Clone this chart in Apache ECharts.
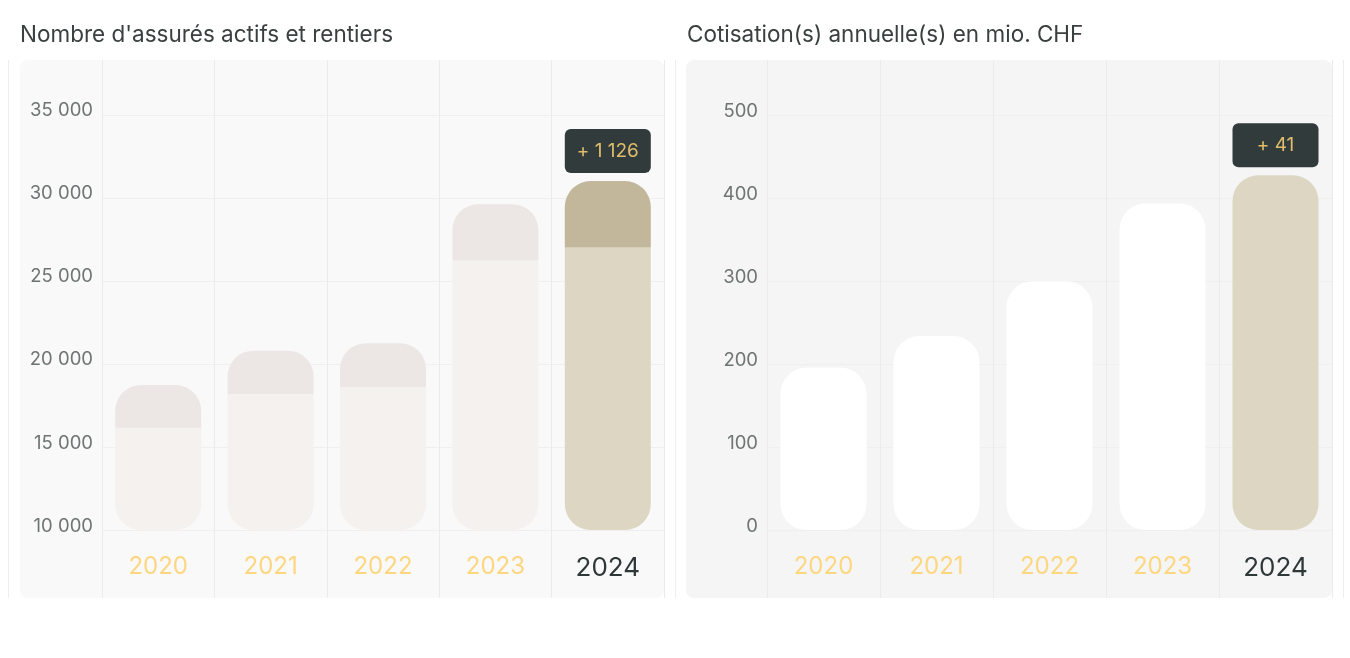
<!DOCTYPE html>
<html>
<head>
<meta charset="utf-8">
<script src="https://cdn.jsdelivr.net/npm/echarts@6/dist/echarts.min.js"></script>
<style>
  html, body { margin: 0; padding: 0; background: #ffffff; }
  #chart { width: 1350px; height: 658px; }
</style>
</head>
<body>
<div id="chart"></div>
<script>
var years = ['2020', '2021', '2022', '2023', '2024'];
// assurés actifs (partie basse) et rentiers (partie haute)
var actifs = [16160, 18190, 18610, 26220, 27010];
var rentiers = [2575, 2610, 2640, 3400, 4010];
// cotisations annuelles en mio. CHF
var cotisations = [196, 234, 300, 394, 428];
var assuresDelta = ['', '', '', '', '+ 1 126'];
var cotisationsDelta = ['', '', '', '', '+ 41'];

var assuresAxis = [10000, 38300, 5000];
var cotisationsAxis = [0, 567, 100];

var chart = echarts.init(document.getElementById('chart'));
var FONT = 'Inter, "Noto Sans", sans-serif';
var lastIdx = years.length - 1;
var R = 26;

function fmt(v) {
    return '{t|' + String(v).replace(/\B(?=(\d{3})+(?!\d))/g, ' ') + '}';
}

function yearData() {
    return years.map(function (y, i) {
        if (i === lastIdx) {
            return { value: y, textStyle: { color: '#2f3838', fontSize: 26 } };
        }
        return y;
    });
}

function deltaLabel(list) {
    return {
        show: true,
        position: 'top',
        distance: 8,
        formatter: function (p) { return list[p.dataIndex]; },
        color: '#e0bd6c',
        fontFamily: FONT,
        fontSize: 19,
        width: 86,
        align: 'center',
        lineHeight: 20,
        padding: [12, 0],
        backgroundColor: '#323b3c',
        borderRadius: 6
    };
}

function xAxisFor(gi) {
    return {
        type: 'category',
        gridIndex: gi,
        data: yearData(),
        axisLine: { show: false },
        axisTick: { show: true, length: 68, lineStyle: { color: '#eeeaea' } },
        splitLine: { show: true, lineStyle: { color: '#eeeaea' } },
        axisLabel: { color: '#fdd680', fontSize: 24, fontFamily: FONT, margin: 25 }
    };
}

function yAxisFor(gi, ax) {
    return {
        type: 'value',
        gridIndex: gi,
        min: ax[0],
        max: ax[1],
        interval: ax[2],
        axisLine: { show: false },
        axisTick: { show: false },
        splitLine: { show: true, showMaxLine: false, lineStyle: { color: '#f0eeee' } },
        axisLabel: {
            showMaxLabel: false,
            margin: 9,
            verticalAlign: 'middle',
            formatter: fmt,
            rich: {
                t: { color: '#6f7474', fontSize: 18.5, fontFamily: FONT, padding: [0, 0, 8, 0] }
            }
        }
    };
}

var titleStyle = { color: '#3a4040', fontSize: 22.5, fontWeight: 'normal', fontFamily: FONT };

var option = {
    backgroundColor: '#ffffff',
    animation: false,
    title: [
        { text: "Nombre d'assurés actifs et rentiers", left: 20, top: 24, padding: 0, textStyle: titleStyle },
        { text: 'Cotisation(s) annuelle(s) en mio. CHF', left: 687, top: 24, padding: 0, textStyle: titleStyle }
    ],
    graphic: [
        { type: 'line', z: -2, shape: { x1: 8.5, y1: 60, x2: 8.5, y2: 598 }, style: { stroke: '#eeeeee', lineWidth: 1 } },
        { type: 'line', z: -2, shape: { x1: 675.5, y1: 60, x2: 675.5, y2: 598 }, style: { stroke: '#eeeeee', lineWidth: 1 } },
        { type: 'line', z: -2, shape: { x1: 1343.5, y1: 60, x2: 1343.5, y2: 598 }, style: { stroke: '#eeeeee', lineWidth: 1 } },
        { type: 'rect', z: -1, shape: { x: 20, y: 60, width: 644, height: 538, r: 8 }, style: { fill: '#f9f9f9' } },
        { type: 'rect', z: -1, shape: { x: 686, y: 60, width: 646, height: 538, r: 8 }, style: { fill: '#f4f5f4' } }
    ],
    grid: [
        { left: 102, right: 686, top: 60, bottom: 128 },
        { left: 767, right: 18, top: 60, bottom: 128 }
    ],
    xAxis: [xAxisFor(0), xAxisFor(1)],
    yAxis: [yAxisFor(0, assuresAxis), yAxisFor(1, cotisationsAxis)],
    series: [
        {
            name: 'Actifs',
            type: 'bar',
            stack: 'assures',
            xAxisIndex: 0,
            yAxisIndex: 0,
            barWidth: 86,
            data: actifs.map(function (v, i) {
                return { value: v, itemStyle: { color: i === lastIdx ? '#dcd6c3' : '#f4f1ef' } };
            }),
            itemStyle: { borderRadius: [0, 0, R, R] }
        },
        {
            name: 'Rentiers',
            type: 'bar',
            stack: 'assures',
            xAxisIndex: 0,
            yAxisIndex: 0,
            barWidth: 86,
            data: rentiers.map(function (v, i) {
                return {
                    value: v,
                    itemStyle: { color: i === lastIdx ? '#c2b69b' : '#ece6e5' },
                    label: assuresDelta[i] ? deltaLabel(assuresDelta) : { show: false }
                };
            }),
            itemStyle: { borderRadius: [R, R, 0, 0] }
        },
        {
            name: 'Cotisations',
            type: 'bar',
            xAxisIndex: 1,
            yAxisIndex: 1,
            barWidth: 86,
            data: cotisations.map(function (v, i) {
                return {
                    value: v,
                    itemStyle: { color: i === lastIdx ? '#dcd6c3' : '#ffffff' },
                    label: cotisationsDelta[i] ? deltaLabel(cotisationsDelta) : { show: false }
                };
            }),
            itemStyle: { borderRadius: R }
        }
    ]
};

chart.setOption(option);
</script>
</body>
</html>
